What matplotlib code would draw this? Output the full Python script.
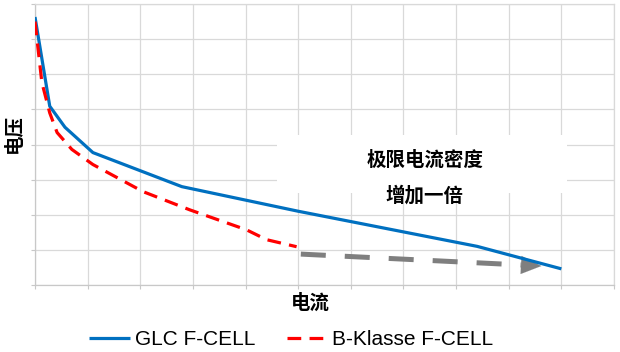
import matplotlib
matplotlib.use('Agg')
import matplotlib.pyplot as plt
from matplotlib.patches import Rectangle

plt.rcParams['font.family'] = ['Noto Sans CJK SC', 'DejaVu Sans']

# values (grid units, 11 x 8 cells)
glc_x = [0, 0.28, 0.57, 1.1, 2.79, 5.0, 8.4, 10.0]
glc_y = [7.63, 5.09, 4.49, 3.77, 2.8, 2.1, 1.1, 0.46]

bk_x = [0, 0.13, 0.28, 0.42, 0.7, 1.1, 2.05, 2.94, 4.02, 4.4, 4.97]
bk_y = [7.5, 5.77, 4.9, 4.34, 3.86, 3.43, 2.66, 2.14, 1.57, 1.29, 1.09]

arrow_x = [5.05, 9.24, 9.62]
arrow_y = [0.88, 0.57, 0.54]

x_ticks = list(range(12))
y_ticks = list(range(9))

blue = '#0070C0'
red = '#FF0000'
gray = '#7f7f7f'
grid_col = '#d9d9d9'

fig = plt.figure(figsize=(6.2, 3.52), dpi=100)
ax = fig.add_axes([35 / 620, 67 / 352, 579 / 620, 281 / 352])

ax.set_xlim(0, 11)
ax.set_ylim(0, 8)
ax.set_xticks(x_ticks)
ax.set_yticks(y_ticks)
ax.set_xticklabels([])
ax.set_yticklabels([])
ax.tick_params(length=3, width=0.8, color='#c8c8c8', direction='out')
ax.set_axisbelow(True)
ax.grid(True, color=grid_col, lw=0.9)
for s in ax.spines.values():
    s.set_color(grid_col)
    s.set_linewidth(0.9)
ax.spines['left'].set_color('#c8c8c8')
ax.spines['bottom'].set_color('#c8c8c8')

# white box behind the annotation
ax.add_patch(Rectangle((0.418, 0.327), 0.501, 0.207, transform=ax.transAxes,
                       facecolor='white', edgecolor='none', zorder=1))

ax.plot(glc_x, glc_y, color=blue, lw=2.3, label='GLC F-CELL', zorder=3,
        solid_capstyle='butt')
ax.plot(bk_x, bk_y, color=red, lw=2.3, dashes=(4.3, 2.6), label='B-Klasse F-CELL',
        zorder=3)

# gray dashed arrow
ax.plot(arrow_x[:2], arrow_y[:2], color=gray, lw=3.6, dashes=(5, 3.8), zorder=2)
ax.annotate('', xy=(arrow_x[2], arrow_y[2]), xytext=(arrow_x[1], arrow_y[1]),
            arrowprops=dict(arrowstyle='-|>,head_length=1.45,head_width=0.65',
                            mutation_scale=10, color=gray, lw=0.1,
                            shrinkA=0, shrinkB=0), zorder=2)

ax.text(0.674, 0.445, '极限电流密度', transform=ax.transAxes, ha='center',
        va='center', fontsize=14, fontweight='bold', zorder=4)
ax.text(0.673, 0.317, '增加一倍', transform=ax.transAxes, ha='center',
        va='center', fontsize=14, fontweight='bold', zorder=4)

ax.set_xlabel('电流', fontsize=14, fontweight='bold')
ax.xaxis.set_label_coords(0.475, -0.03)
ax.set_ylabel('电压', fontsize=14, fontweight='bold')
ax.yaxis.set_label_coords(-0.02, 0.54)

leg = fig.legend(loc='center', bbox_to_anchor=(0.47, 0.035), ncol=2, frameon=False,
                 prop={'family': 'Liberation Sans', 'size': 15},
                 handlelength=1.95, handletextpad=0.25, columnspacing=1.5)

fig.savefig('out.png', dpi=100)
